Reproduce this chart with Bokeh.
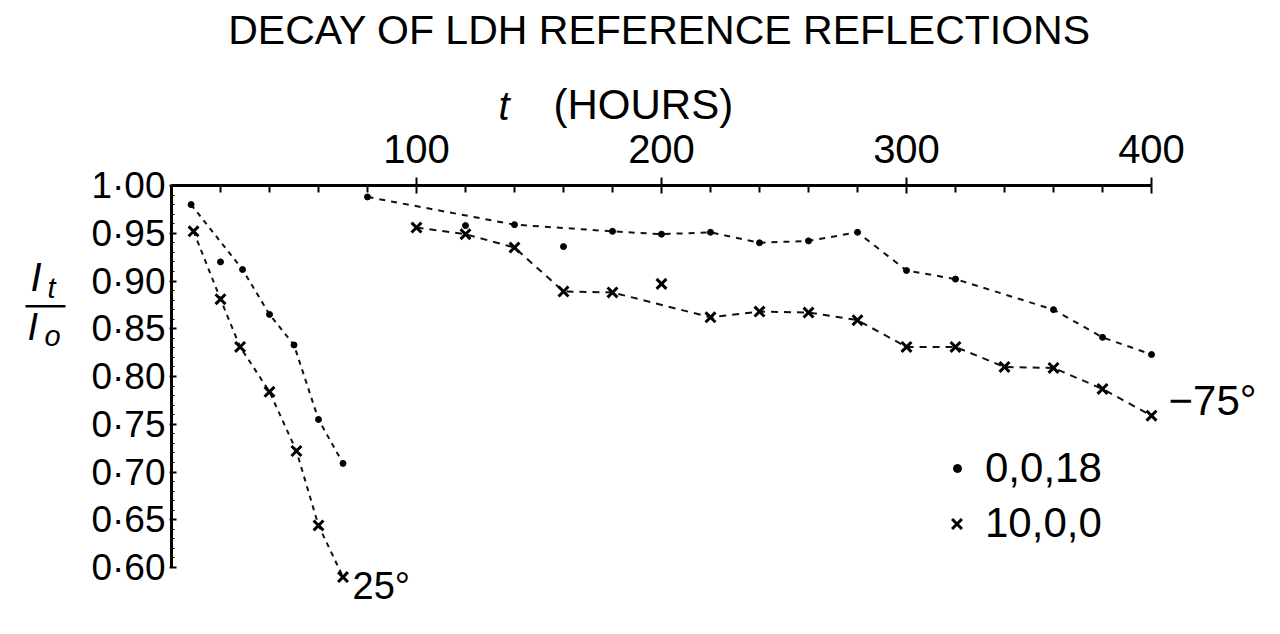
from bokeh.plotting import figure
from bokeh.models import Range1d, FixedTicker, Label, Legend, LegendItem, BoxAnnotation
from bokeh.embed import file_html
from bokeh.resources import INLINE

# ---- data ----
# 25 degree runs (t in hours, I_t / I_o)
hours_25_dot = [8, 20, 29, 40, 50, 60, 70]
ratio_25_dot = [0.980, 0.920, 0.912, 0.865, 0.833, 0.755, 0.709]
hours_25_x = [9, 20, 28, 40, 51, 60, 70]
ratio_25_x = [0.952, 0.881, 0.831, 0.784, 0.722, 0.644, 0.590]
# -75 degree runs
hours_m75_dot = [80, 120, 140, 160, 180, 200, 220, 240, 260, 280, 300, 320, 360, 380, 400]
ratio_m75_dot = [0.988, 0.958, 0.959, 0.936, 0.952, 0.949, 0.951, 0.940, 0.942,
                 0.951, 0.911, 0.902, 0.870, 0.841, 0.823]
hours_m75_x = [100, 120, 140, 160, 180, 200, 220, 240, 260, 280, 300, 320, 340, 360, 380, 400]
ratio_m75_x = [0.956, 0.949, 0.935, 0.889, 0.888, 0.897, 0.862, 0.868, 0.867,
               0.859, 0.831, 0.831, 0.810, 0.809, 0.787, 0.759]
# points that the hand-drawn dashed curves pass by (not through)
off_curve_25_dot = [20]
off_curve_m75_dot = [120, 160]
off_curve_m75_x = [200]

x_major_ticks = [100, 200, 300, 400]
x_minor_ticks = [20, 40, 60, 80, 120, 140, 160, 180, 220, 240, 260, 280, 320, 340, 360, 380]
y_ticks = [0.60, 0.65, 0.70, 0.75, 0.80, 0.85, 0.90, 0.95, 1.00]
y_tick_labels = ["0·60", "0·65", "0·70", "0·75", "0·80", "0·85", "0·90", "0·95", "1·00"]
y_minor_ticks = [round(0.60 + 0.01 * i, 2) for i in range(41)]

legend_labels = ["0,0,18", "10,0,0"]

FONT = "Liberation Sans"
W, H = 1280, 634
X0, Y1 = 171, 185          # canvas pixel of t = 0 and of ratio = 1.00
PX_PER_HOUR = 2.45
PX_PER_UNIT = 955.0


def curve(hours, ratios, skip):
    hs = [h for h in hours if h not in skip]
    rs = [r for h, r in zip(hours, ratios) if h not in skip]
    return hs, rs


p = figure(width=W, height=H,
           x_range=Range1d(-X0 / PX_PER_HOUR, (W - X0) / PX_PER_HOUR),
           y_range=Range1d(1 - (H - Y1) / PX_PER_UNIT, 1 + Y1 / PX_PER_UNIT),
           x_axis_location="above", output_backend="svg", toolbar_location=None,
           min_border=0)
p.outline_line_color = None
p.xgrid.grid_line_color = None
p.ygrid.grid_line_color = None
p.background_fill_color = "white"
p.border_fill_color = "white"

# top (time) axis, drawn at ratio = 1.00
xa = p.xaxis[0]
xa.fixed_location = 1.0
xa.ticker = FixedTicker(ticks=x_major_ticks, minor_ticks=x_minor_ticks)
xa.bounds = (0, 400)
xa.axis_line_width = 3
xa.major_tick_line_width = 2
xa.minor_tick_line_width = 2
xa.major_tick_in = 8
xa.major_tick_out = 8
xa.minor_tick_in = 7
xa.minor_tick_out = 0
xa.major_label_standoff = 15
xa.major_label_text_font = FONT
xa.major_label_text_font_size = "40px"
xa.major_label_text_color = "black"

# left (ratio) axis, drawn at t = 0
ya = p.yaxis[0]
ya.fixed_location = 0
ya.ticker = FixedTicker(ticks=y_ticks, minor_ticks=y_minor_ticks)
ya.major_label_overrides = dict(zip(y_ticks, y_tick_labels))
ya.bounds = (0.60, 1.00)
ya.axis_line_width = 3
ya.major_tick_line_width = 2
ya.minor_tick_line_width = 1
ya.major_tick_in = 5
ya.major_tick_out = 2
ya.minor_tick_in = 3
ya.minor_tick_out = 0
ya.major_label_standoff = 4
ya.major_label_text_font = FONT
ya.major_label_text_font_size = "37px"
ya.major_label_text_color = "black"

# dashed curves
for hs, rs, skip, dash in [(hours_25_dot, ratio_25_dot, off_curve_25_dot, "5 5"),
                           (hours_25_x, ratio_25_x, [], "5 5"),
                           (hours_m75_dot, ratio_m75_dot, off_curve_m75_dot, "6 6"),
                           (hours_m75_x, ratio_m75_x, off_curve_m75_x, "7 6")]:
    cx, cy = curve(hs, rs, skip)
    p.line(cx, cy, line_dash=dash, line_width=2, line_color="#111111")

# markers
r_dot25 = p.scatter(hours_25_dot, ratio_25_dot, marker="circle", size=6, color="black")
r_x25 = p.scatter(hours_25_x, ratio_25_x, marker="x", size=14, line_width=3, color="black")
r_dot75 = p.scatter(hours_m75_dot, ratio_m75_dot, marker="circle", size=6, color="black")
r_x75 = p.scatter(hours_m75_x, ratio_m75_x, marker="x", size=14, line_width=3, color="black")

legend_style = dict(border_line_alpha=0, background_fill_alpha=0,
                    label_text_font=FONT, label_text_font_size="42px",
                    label_text_color="black", padding=0, margin=0, spacing=0)
p.add_layout(Legend(items=[LegendItem(label=legend_labels[0], renderers=[r_dot75])],
                    location=(947, 142), glyph_width=20, glyph_height=20,
                    label_standoff=18, **legend_style))
p.add_layout(Legend(items=[LegendItem(label=legend_labels[1], renderers=[r_x75])],
                    location=(939, 87), glyph_width=35, glyph_height=35,
                    label_standoff=11, **legend_style))


def lab(text, px, py, size, align="left", style="normal"):
    # py is the wanted baseline (canvas pixels from the top)
    p.add_layout(Label(x=px, y=H - py + 0.4 * size, x_units="screen", y_units="screen",
                       text=text, text_font=FONT, text_font_size=f"{size}px",
                       text_font_style=style, text_align=align,
                       text_baseline="alphabetic", text_color="black"))


lab("DECAY OF LDH REFERENCE REFLECTIONS", 659, 46, 41, align="center")
lab("t", 498, 121, 40, style="italic")
lab("(HOURS)", 553, 121, 42)
lab("25°", 352, 601, 38)
lab("\u221275°", 1168, 417, 42)
# I_t / I_o
lab("I", 30, 292, 40, style="italic")
lab("t", 47, 299, 29, style="italic")
lab("I", 27, 342, 38, style="italic")
lab("o", 44, 347, 29, style="italic")
p.add_layout(BoxAnnotation(left=25, right=65, top=H - 304.5, bottom=H - 307,
                           left_units="screen", right_units="screen",
                           top_units="screen", bottom_units="screen",
                           fill_color="black", fill_alpha=1.0, line_alpha=0))

open("out.html", "w").write(file_html(p, INLINE))
